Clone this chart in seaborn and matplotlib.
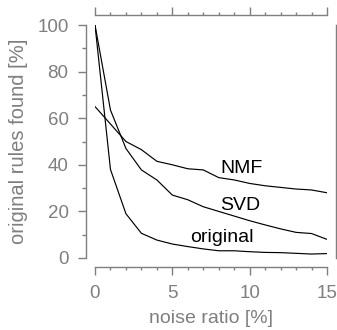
import numpy as np
import pandas as pd
import matplotlib
matplotlib.use("Agg")
import matplotlib.pyplot as plt
import seaborn as sns
from matplotlib.ticker import MultipleLocator

# values
noise = [0, 1, 2, 3, 4, 5, 6, 7, 8, 9, 10, 11, 12, 13, 14, 15]
nmf = [65, 57.5, 50, 46.5, 41.5, 40, 38.3, 37.8, 34.5, 33.5, 32, 31, 30.3, 29.6, 29.2, 28]
svd = [100, 63.5, 47, 37.8, 33.5, 27, 25, 22, 20, 18, 16, 14.2, 12.5, 11, 10.5, 8]
original = [100, 38, 19, 10.6, 7.7, 6, 4.9, 3.9, 3.1, 3.1, 2.7, 2.4, 2.3, 2.0, 1.7, 1.9]

df = pd.DataFrame({
    "noise": noise * 3,
    "found": nmf + svd + original,
    "method": ["NMF"] * len(noise) + ["SVD"] * len(noise) + ["original"] * len(noise),
})

sns.set_style("white")
plt.rcParams["font.family"] = ["Liberation Sans", "DejaVu Sans"]
grey = "#7f7f7f"

fig = plt.figure(figsize=(3.37, 3.30), dpi=100)
ax = fig.add_axes([95 / 337, 72 / 330, 232 / 337, 233 / 330])

sns.lineplot(data=df, x="noise", y="found", hue="method",
             palette={"NMF": "black", "SVD": "black", "original": "black"},
             legend=False, linewidth=0.85, ax=ax)

ax.set_xlim(0, 15)
ax.set_ylim(0, 100)
ax.xaxis.set_major_locator(MultipleLocator(5))
ax.xaxis.set_minor_locator(MultipleLocator(1))
ax.yaxis.set_major_locator(MultipleLocator(20))
ax.yaxis.set_minor_locator(MultipleLocator(10))

off = 6.5
for side in ["left", "bottom", "top", "right"]:
    ax.spines[side].set_visible(True)
    ax.spines[side].set_color(grey)
    ax.spines[side].set_linewidth(1.0)
    ax.spines[side].set_position(("outward", off))
ax.spines["top"].set_position(("outward", 7.2))
ax.spines["left"].set_bounds(0, 100)
ax.spines["right"].set_bounds(0, 100)
ax.spines["bottom"].set_bounds(0, 15)
ax.spines["top"].set_bounds(0, 15)

ax.tick_params(axis="x", which="both", direction="out", top=True, bottom=True,
               colors=grey, labelcolor=grey, labelsize=13.5, pad=7.5)
ax.tick_params(axis="x", which="major", length=5.5, width=1.0)
ax.tick_params(axis="x", which="minor", length=2.5, width=1.0)
ax.tick_params(axis="y", which="both", direction="out", left=True, right=True,
               colors=grey, labelcolor=grey, labelsize=13.5, pad=7)
ax.tick_params(axis="y", which="major", length=5.5, width=1.0)
ax.tick_params(axis="y", which="minor", length=3, width=1.0)

ax.set_xlabel("noise ratio [%]", fontsize=14, color=grey, labelpad=6)
ax.set_ylabel("original rules found [%]", fontsize=14.5, color=grey, labelpad=7)

ax.text(8.08, 36.5, "NMF", fontsize=14, color="black")
ax.text(8.08, 20.6, "SVD", fontsize=14, color="black")
ax.text(6.14, 7.0, "original", fontsize=14, color="black")

fig.savefig("out.png", dpi=100)
